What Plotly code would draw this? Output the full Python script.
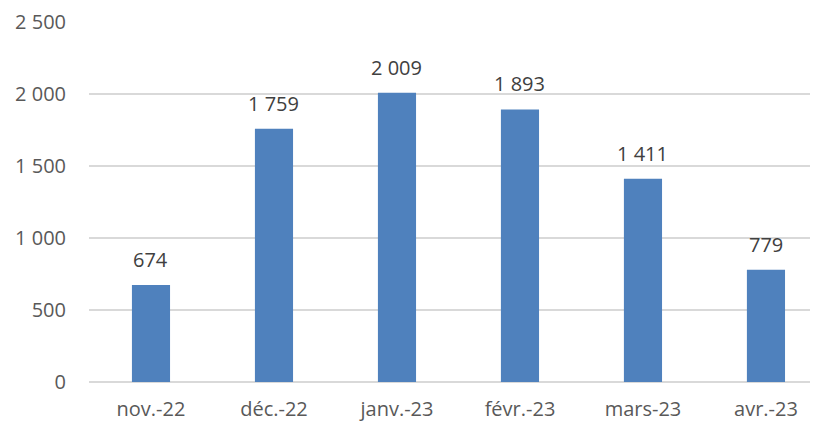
import plotly.graph_objects as go

categories = ["nov.-22", "déc.-22", "janv.-23", "févr.-23", "mars-23", "avr.-23"]
values = [674, 1759, 2009, 1893, 1411, 779]
y_ticks = [0, 500, 1000, 1500, 2000, 2500]


def fmt(v):
    return f"{v:,}".replace(",", " ")


fig = go.Figure()
fig.add_trace(go.Bar(
    x=categories, y=values, width=0.31,
    marker=dict(color="#4F81BD", line=dict(width=0)),
    hoverinfo="skip",
))

for c, v in zip(categories, values):
    fig.add_annotation(x=c, y=v, text=fmt(v), showarrow=False,
                       yanchor="bottom", yshift=10,
                       font=dict(family="Open Sans", size=20, color="#404040"))

fig.update_layout(
    width=819, height=423,
    margin=dict(l=89, r=9, t=22, b=41),
    paper_bgcolor="white", plot_bgcolor="white",
    showlegend=False,
    font=dict(family="Open Sans", size=20, color="#595959"),
)
fig.update_xaxes(
    type="category", range=[-0.504, 5.358], automargin=False,
    showgrid=False, showline=False, ticks="", ticklabelstandoff=13,
    tickfont=dict(size=20, color="#595959"),
)
fig.update_yaxes(
    range=[0, 2500], tickvals=y_ticks, ticktext=[fmt(t) for t in y_ticks],
    automargin=False,
    showgrid=True, gridcolor="#D9D9D9", gridwidth=1.5,
    zeroline=True, zerolinecolor="#D9D9D9", zerolinewidth=1.5,
    showline=False, ticks="", ticklabelstandoff=22,
    tickfont=dict(size=20, color="#595959"),
)

fig.write_html("out.html")
